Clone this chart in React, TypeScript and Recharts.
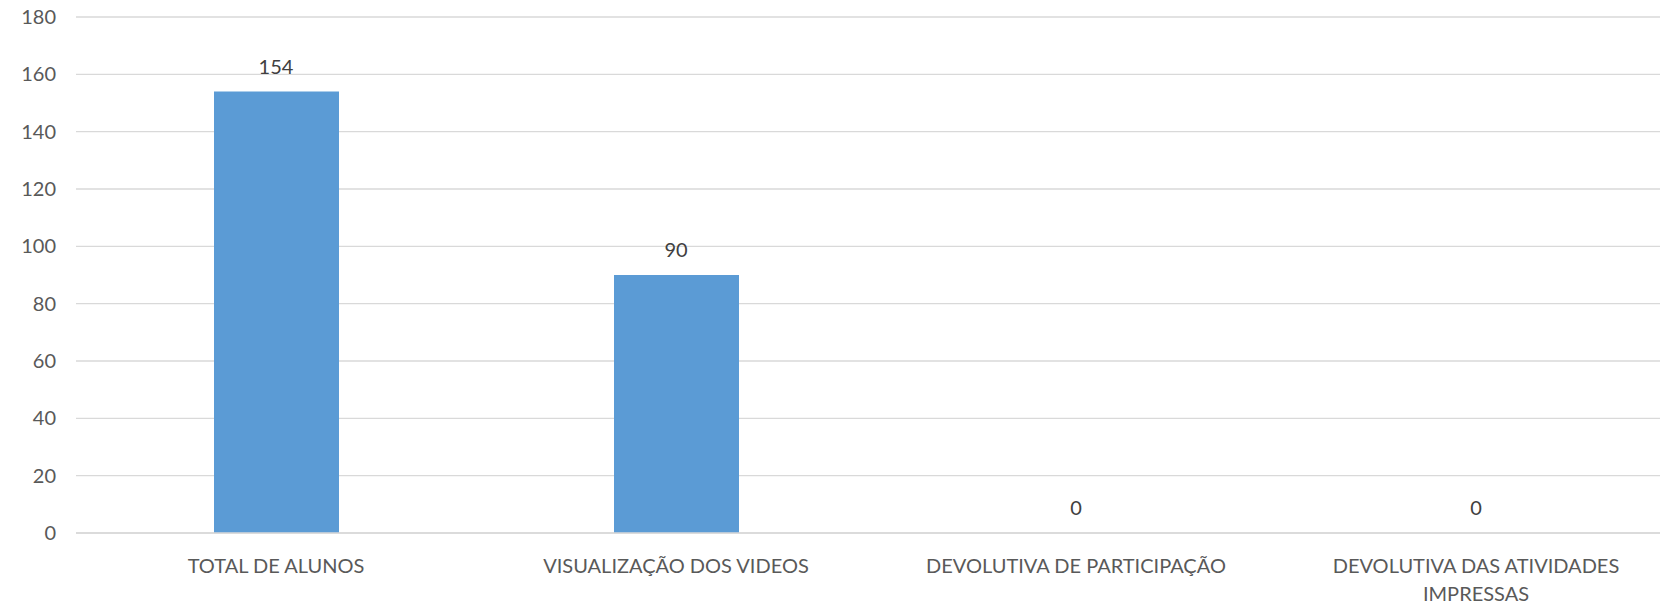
import { ComposedChart, Bar, Line, XAxis, YAxis, CartesianGrid, LabelList } from "recharts";

const categories = [
  "TOTAL DE ALUNOS",
  "VISUALIZAÇÃO DOS VIDEOS",
  "DEVOLUTIVA DE PARTICIPAÇÃO",
  "DEVOLUTIVA DAS ATIVIDADES IMPRESSAS",
];
const values = [154, 90, 0, 0];
const yTicks = [0, 20, 40, 60, 80, 100, 120, 140, 160, 180];

const data = categories.map((name, i) => ({ name, value: values[i] }));

const FONT = "Lato, 'Open Sans', sans-serif";
const TEXT = "#595959";
const GRID = "#d9d9d9";

// breaks long category names the way excel wraps them
function wrap(text: string, max = 27): string[] {
  const words = text.split(" ");
  const lines: string[] = [];
  let cur = "";
  words.forEach((w) => {
    const next = cur ? cur + " " + w : w;
    if (next.length > max && cur) {
      lines.push(cur);
      cur = w;
    } else {
      cur = next;
    }
  });
  if (cur) lines.push(cur);
  return lines;
}

function CategoryTick(props: any) {
  const { x, y, payload } = props;
  const lines = wrap(payload.value);
  return (
    <text x={x} y={y} textAnchor="middle" fill={TEXT} fontSize={20} fontFamily={FONT}>
      {lines.map((l, i) => (
        <tspan key={i} x={x} dy={i === 0 ? 32 : 28}>
          {l}
        </tspan>
      ))}
    </text>
  );
}

export default function App() {
  return (
    <div style={{ position: "fixed", left: 0, top: 0, width: 1660, height: 606, overflow: "hidden", background: "#fff" }}>
      <ComposedChart
        width={1680}
        height={606}
        data={data}
        margin={{ top: 17, right: 4, bottom: 0, left: 0 }}
        barSize={125}
      >
        <CartesianGrid vertical={false} stroke={GRID} strokeWidth={1.3} />
        <XAxis
          dataKey="name"
          height={73}
          axisLine={{ stroke: GRID, strokeWidth: 1.3 }}
          tickLine={false}
          interval={0}
          tick={<CategoryTick />}
        />
        <YAxis
          width={76}
          domain={[0, 180]}
          ticks={yTicks}
          axisLine={false}
          tickLine={false}
          tickSize={0}
          tickMargin={20}
          tick={{ fill: TEXT, fontSize: 20, fontFamily: FONT }}
        />
        <Bar dataKey="value" fill="#5b9bd5" isAnimationActive={false} />
        {/* invisible series only to carry the value labels (zero bars get none otherwise) */}
        <Line
          dataKey="value"
          stroke="none"
          dot={false}
          activeDot={false}
          legendType="none"
          isAnimationActive={false}
        >
          <LabelList
            dataKey="value"
            position="top"
            offset={18}
            fill="#404040"
            fontSize={20}
            fontFamily={FONT}
          />
        </Line>
      </ComposedChart>
    </div>
  );
}
